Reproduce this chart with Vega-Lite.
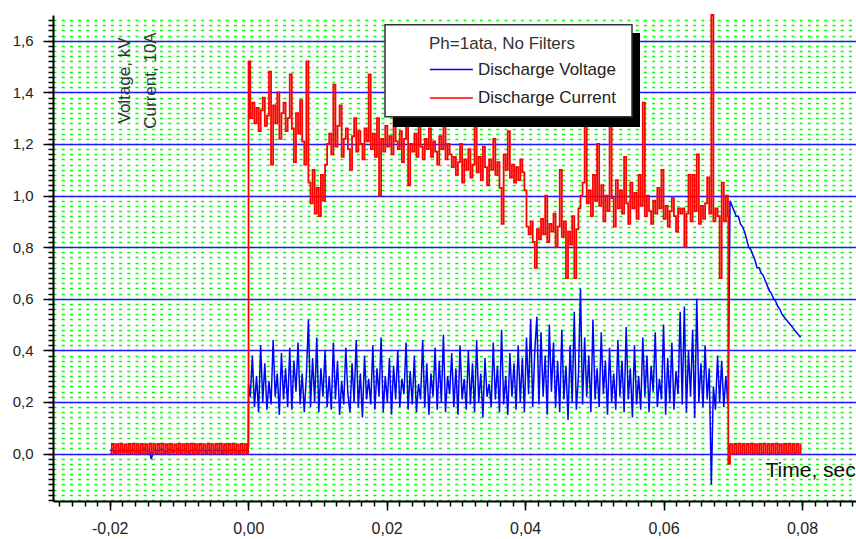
{
"$schema": "https://vega.github.io/schema/vega-lite/v6.json",
"width": 803, "height": 486,
"autosize": {"type": "none"},
"padding": {"left": 53, "top": 15, "right": 0, "bottom": 38},
"background": "white",
"config": {"view": {"stroke": null}, "font": "Liberation Sans", "legend": {"labelLimit": 400, "titleLimit": 400}},
"data": {"values": [
{"t":-0.0200,"V":0.010,"I":0.000},{"t":-0.0197,"V":0.015,"I":0.037},{"t":-0.0194,"V":0.008,"I":0.002},{"t":-0.0191,"V":0.012,"I":0.036},{"t":-0.0188,"V":0.006,"I":0.000},{"t":-0.0185,"V":0.014,"I":0.038},{"t":-0.0182,"V":0.010,"I":0.003},{"t":-0.0179,"V":0.018,"I":0.035},{"t":-0.0176,"V":0.007,"I":0.000},{"t":-0.0173,"V":0.012,"I":0.037},
{"t":-0.0170,"V":0.009,"I":0.001},{"t":-0.0167,"V":0.016,"I":0.038},{"t":-0.0164,"V":0.011,"I":0.000},{"t":-0.0161,"V":0.008,"I":0.036},{"t":-0.0158,"V":0.013,"I":0.002},{"t":-0.0155,"V":0.010,"I":0.037},{"t":-0.0152,"V":0.017,"I":0.000},{"t":-0.0149,"V":0.012,"I":0.035},{"t":-0.0146,"V":0.006,"I":0.001},{"t":-0.0143,"V":0.014,"I":0.038},
{"t":-0.0140,"V":-0.022,"I":0.000},{"t":-0.0137,"V":0.011,"I":0.036},{"t":-0.0134,"V":0.015,"I":0.002},{"t":-0.0131,"V":0.009,"I":0.037},{"t":-0.0128,"V":0.013,"I":0.000},{"t":-0.0125,"V":0.018,"I":0.038},{"t":-0.0122,"V":0.010,"I":0.001},{"t":-0.0119,"V":0.007,"I":0.036},{"t":-0.0116,"V":0.012,"I":0.000},{"t":-0.0113,"V":0.016,"I":0.037},
{"t":-0.0110,"V":0.009,"I":0.003},{"t":-0.0107,"V":0.013,"I":0.035},{"t":-0.0104,"V":0.011,"I":0.000},{"t":-0.0101,"V":0.019,"I":0.038},{"t":-0.0098,"V":0.008,"I":0.001},{"t":-0.0095,"V":0.012,"I":0.036},{"t":-0.0092,"V":0.015,"I":0.000},{"t":-0.0089,"V":0.010,"I":0.037},{"t":-0.0086,"V":0.006,"I":0.002},{"t":-0.0083,"V":0.014,"I":0.038},
{"t":-0.0080,"V":0.011,"I":0.000},{"t":-0.0077,"V":0.017,"I":0.036},{"t":-0.0074,"V":0.009,"I":0.001},{"t":-0.0071,"V":0.013,"I":0.037},{"t":-0.0068,"V":0.010,"I":0.000},{"t":-0.0065,"V":0.016,"I":0.035},{"t":-0.0062,"V":0.008,"I":0.002},{"t":-0.0059,"V":0.012,"I":0.038},{"t":-0.0056,"V":0.014,"I":0.000},{"t":-0.0053,"V":0.009,"I":0.036},
{"t":-0.0050,"V":0.011,"I":0.001},{"t":-0.0047,"V":0.018,"I":0.037},{"t":-0.0044,"V":0.010,"I":0.000},{"t":-0.0041,"V":0.013,"I":0.038},{"t":-0.0038,"V":0.007,"I":0.002},{"t":-0.0035,"V":0.015,"I":0.036},{"t":-0.0032,"V":0.011,"I":0.000},{"t":-0.0029,"V":0.009,"I":0.037},{"t":-0.0026,"V":0.014,"I":0.001},{"t":-0.0023,"V":0.012,"I":0.038},
{"t":-0.0020,"V":0.016,"I":0.000},{"t":-0.0017,"V":0.010,"I":0.035},{"t":-0.0014,"V":0.008,"I":0.002},{"t":-0.0011,"V":0.013,"I":0.037},{"t":-0.0008,"V":0.011,"I":0.000},{"t":-0.0005,"V":0.015,"I":0.036},{"t":-0.0002,"V":0.010,"I":0.001},{"t":0.0000,"V":0.012,"I":0.030},{"t":0.00005,"V":0.27,"I":1.52},
{"t":0.0003,"V":0.22,"I":1.30},{"t":0.0006,"V":0.38,"I":1.36},{"t":0.0009,"V":0.18,"I":1.28},{"t":0.0012,"V":0.30,"I":1.34},{"t":0.0015,"V":0.16,"I":1.25},{"t":0.0018,"V":0.42,"I":1.33},{"t":0.0021,"V":0.20,"I":1.38},{"t":0.0024,"V":0.35,"I":1.27},{"t":0.0027,"V":0.17,"I":1.31},{"t":0.0030,"V":0.28,"I":1.48},
{"t":0.0033,"V":0.19,"I":1.12},{"t":0.0036,"V":0.44,"I":1.35},{"t":0.0039,"V":0.22,"I":1.28},{"t":0.0042,"V":0.31,"I":1.40},{"t":0.0045,"V":0.15,"I":1.22},{"t":0.0048,"V":0.39,"I":1.32},{"t":0.0051,"V":0.21,"I":1.36},{"t":0.0054,"V":0.33,"I":1.25},{"t":0.0057,"V":0.18,"I":1.30},{"t":0.0060,"V":0.41,"I":1.47},
{"t":0.0063,"V":0.17,"I":1.26},{"t":0.0066,"V":0.36,"I":1.13},{"t":0.0069,"V":0.24,"I":1.32},{"t":0.0072,"V":0.43,"I":1.24},{"t":0.0075,"V":0.19,"I":1.37},{"t":0.0078,"V":0.31,"I":1.21},{"t":0.0081,"V":0.16,"I":1.12},{"t":0.0084,"V":0.30,"I":1.52},
{"t":0.0087,"V":0.52,"I":1.05},{"t":0.0090,"V":0.18,"I":0.97},{"t":0.0093,"V":0.37,"I":1.10},{"t":0.0096,"V":0.20,"I":0.93},{"t":0.0099,"V":0.45,"I":1.03},{"t":0.0102,"V":0.16,"I":0.92},{"t":0.0105,"V":0.33,"I":1.08},{"t":0.0108,"V":0.22,"I":0.98},{"t":0.0111,"V":0.40,"I":1.12},{"t":0.0114,"V":0.18,"I":1.20},
{"t":0.0117,"V":0.30,"I":1.24},{"t":0.0120,"V":0.17,"I":1.16},{"t":0.0123,"V":0.43,"I":1.43},{"t":0.0126,"V":0.21,"I":1.19},{"t":0.0129,"V":0.36,"I":1.27},{"t":0.0132,"V":0.15,"I":1.35},{"t":0.0135,"V":0.28,"I":1.15},{"t":0.0138,"V":0.19,"I":1.22},{"t":0.0141,"V":0.41,"I":1.26},{"t":0.0144,"V":0.23,"I":1.18},
{"t":0.0147,"V":0.16,"I":1.10},{"t":0.0150,"V":0.35,"I":1.23},{"t":0.0153,"V":0.20,"I":1.30},{"t":0.0156,"V":0.44,"I":1.17},{"t":0.0159,"V":0.18,"I":1.25},{"t":0.0162,"V":0.31,"I":1.20},{"t":0.0165,"V":0.14,"I":1.14},{"t":0.0168,"V":0.38,"I":1.26},{"t":0.0171,"V":0.21,"I":1.21},{"t":0.0174,"V":0.29,"I":1.47},
{"t":0.0177,"V":0.19,"I":1.18},{"t":0.0180,"V":0.42,"I":1.24},{"t":0.0183,"V":0.17,"I":1.15},{"t":0.0186,"V":0.33,"I":1.30},{"t":0.0189,"V":0.22,"I":1.00},{"t":0.0192,"V":0.45,"I":1.22},{"t":0.0195,"V":0.16,"I":1.17},{"t":0.0198,"V":0.30,"I":1.27},{"t":0.0201,"V":0.20,"I":1.19},{"t":0.0204,"V":0.37,"I":1.23},
{"t":0.0207,"V":0.15,"I":1.16},{"t":0.0210,"V":0.34,"I":1.33},{"t":0.0213,"V":0.21,"I":1.21},{"t":0.0216,"V":0.40,"I":1.18},{"t":0.0219,"V":0.18,"I":1.25},{"t":0.0222,"V":0.29,"I":1.13},{"t":0.0225,"V":0.23,"I":1.22},{"t":0.0228,"V":0.43,"I":1.28},{"t":0.0231,"V":0.17,"I":1.04},{"t":0.0234,"V":0.32,"I":1.20},
{"t":0.0237,"V":0.19,"I":1.17},{"t":0.0240,"V":0.38,"I":1.24},{"t":0.0243,"V":0.16,"I":1.15},{"t":0.0246,"V":0.27,"I":1.35},{"t":0.0249,"V":0.21,"I":1.19},{"t":0.0252,"V":0.44,"I":1.14},{"t":0.0255,"V":0.18,"I":1.22},{"t":0.0258,"V":0.35,"I":1.18},{"t":0.0261,"V":0.15,"I":1.26},{"t":0.0264,"V":0.31,"I":1.15},
{"t":0.0267,"V":0.22,"I":1.21},{"t":0.0270,"V":0.41,"I":1.17},{"t":0.0273,"V":0.17,"I":1.12},{"t":0.0276,"V":0.36,"I":1.23},{"t":0.0279,"V":0.20,"I":1.18},{"t":0.0282,"V":0.46,"I":1.28},{"t":0.0285,"V":0.16,"I":1.14},{"t":0.0288,"V":0.30,"I":1.20},{"t":0.0291,"V":0.23,"I":1.16},{"t":0.0294,"V":0.39,"I":1.11},
{"t":0.0297,"V":0.18,"I":1.15},{"t":0.0300,"V":0.33,"I":1.08},{"t":0.0303,"V":0.15,"I":1.13},{"t":0.0306,"V":0.42,"I":1.20},{"t":0.0309,"V":0.21,"I":1.05},{"t":0.0312,"V":0.29,"I":1.14},{"t":0.0315,"V":0.17,"I":1.10},{"t":0.0318,"V":0.40,"I":1.18},{"t":0.0321,"V":0.19,"I":1.07},{"t":0.0324,"V":0.35,"I":1.12},
{"t":0.0327,"V":0.16,"I":1.38},{"t":0.0330,"V":0.44,"I":1.09},{"t":0.0333,"V":0.20,"I":1.15},{"t":0.0336,"V":0.31,"I":1.06},{"t":0.0339,"V":0.14,"I":1.19},{"t":0.0342,"V":0.37,"I":1.11},{"t":0.0345,"V":0.22,"I":1.04},{"t":0.0348,"V":0.27,"I":1.14},{"t":0.0351,"V":0.18,"I":1.10},{"t":0.0354,"V":0.43,"I":1.22},
{"t":0.0357,"V":0.21,"I":1.08},{"t":0.0360,"V":0.34,"I":1.13},{"t":0.0363,"V":0.16,"I":1.03},{"t":0.0366,"V":0.48,"I":0.89},{"t":0.0369,"V":0.19,"I":1.16},{"t":0.0372,"V":0.30,"I":1.10},{"t":0.0375,"V":0.15,"I":1.25},{"t":0.0378,"V":0.39,"I":1.07},{"t":0.0381,"V":0.22,"I":1.12},{"t":0.0384,"V":0.35,"I":1.05},
{"t":0.0387,"V":0.17,"I":1.11},{"t":0.0390,"V":0.42,"I":1.06},{"t":0.0393,"V":0.20,"I":1.14},{"t":0.0396,"V":0.37,"I":1.09},{"t":0.0399,"V":0.16,"I":1.02},{"t":0.0402,"V":0.45,"I":0.88},{"t":0.0405,"V":0.23,"I":0.85},{"t":0.0408,"V":0.52,"I":0.90},{"t":0.0411,"V":0.18,"I":0.82},{"t":0.0414,"V":0.40,"I":0.72},
{"t":0.0417,"V":0.53,"I":0.87},{"t":0.0420,"V":0.19,"I":0.83},{"t":0.0423,"V":0.47,"I":0.91},{"t":0.0426,"V":0.22,"I":0.85},{"t":0.0429,"V":0.38,"I":1.00},{"t":0.0432,"V":0.15,"I":0.82},{"t":0.0435,"V":0.50,"I":0.89},{"t":0.0438,"V":0.24,"I":0.86},{"t":0.0441,"V":0.43,"I":0.93},{"t":0.0444,"V":0.18,"I":0.80},
{"t":0.0447,"V":0.36,"I":0.88},{"t":0.0450,"V":0.16,"I":1.10},{"t":0.0453,"V":0.48,"I":0.84},{"t":0.0456,"V":0.21,"I":0.90},{"t":0.0459,"V":0.34,"I":0.68},{"t":0.0462,"V":0.13,"I":0.86},{"t":0.0465,"V":0.42,"I":0.81},{"t":0.0468,"V":0.20,"I":0.92},{"t":0.0471,"V":0.55,"I":0.68},{"t":0.0474,"V":0.17,"I":0.87},
{"t":0.0477,"V":0.30,"I":0.95},{"t":0.0480,"V":0.64,"I":1.00},{"t":0.0483,"V":0.19,"I":1.05},{"t":0.0486,"V":0.45,"I":1.45},{"t":0.0489,"V":0.22,"I":0.97},{"t":0.0492,"V":0.38,"I":1.02},{"t":0.0495,"V":0.16,"I":0.92},{"t":0.0498,"V":0.52,"I":1.08},{"t":0.0501,"V":0.21,"I":0.98},{"t":0.0504,"V":0.33,"I":1.20},
{"t":0.0507,"V":0.18,"I":0.96},{"t":0.0510,"V":0.47,"I":1.04},{"t":0.0513,"V":0.23,"I":0.90},{"t":0.0516,"V":0.36,"I":1.00},{"t":0.0519,"V":0.15,"I":0.94},{"t":0.0522,"V":0.41,"I":1.27},{"t":0.0525,"V":0.20,"I":0.99},{"t":0.0528,"V":0.31,"I":0.88},{"t":0.0531,"V":0.17,"I":1.06},{"t":0.0534,"V":0.44,"I":0.95},
{"t":0.0537,"V":0.22,"I":1.02},{"t":0.0540,"V":0.36,"I":0.93},{"t":0.0543,"V":0.16,"I":1.15},{"t":0.0546,"V":0.49,"I":0.97},{"t":0.0549,"V":0.21,"I":0.89},{"t":0.0552,"V":0.33,"I":1.05},{"t":0.0555,"V":0.14,"I":0.95},{"t":0.0558,"V":0.42,"I":1.01},{"t":0.0561,"V":0.19,"I":0.91},{"t":0.0564,"V":0.30,"I":1.08},
{"t":0.0567,"V":0.17,"I":0.96},{"t":0.0570,"V":0.45,"I":1.36},{"t":0.0573,"V":0.22,"I":0.92},{"t":0.0576,"V":0.38,"I":1.00},{"t":0.0579,"V":0.16,"I":0.94},{"t":0.0582,"V":0.34,"I":0.89},{"t":0.0585,"V":0.24,"I":0.98},{"t":0.0588,"V":0.47,"I":0.93},{"t":0.0591,"V":0.18,"I":1.03},{"t":0.0594,"V":0.29,"I":0.95},
{"t":0.0597,"V":0.21,"I":1.10},{"t":0.0600,"V":0.50,"I":0.91},{"t":0.0603,"V":0.15,"I":0.96},{"t":0.0606,"V":0.37,"I":0.88},{"t":0.0609,"V":0.20,"I":0.94},{"t":0.0612,"V":0.43,"I":0.99},{"t":0.0615,"V":0.17,"I":0.92},{"t":0.0618,"V":0.32,"I":0.86},{"t":0.0621,"V":0.23,"I":0.95},{"t":0.0624,"V":0.55,"I":0.93},
{"t":0.0627,"V":0.19,"I":0.95},{"t":0.0630,"V":0.57,"I":0.80},{"t":0.0633,"V":0.16,"I":0.93},{"t":0.0636,"V":0.40,"I":1.08},{"t":0.0639,"V":0.22,"I":0.90},{"t":0.0642,"V":0.48,"I":1.08},{"t":0.0645,"V":0.14,"I":0.94},{"t":0.0648,"V":0.60,"I":1.16},{"t":0.0651,"V":0.20,"I":0.89},{"t":0.0654,"V":0.35,"I":0.96},
{"t":0.0657,"V":0.18,"I":0.91},{"t":0.0660,"V":0.42,"I":0.97},{"t":0.0663,"V":0.21,"I":1.07},{"t":0.0666,"V":0.33,"I":0.93},{"t":0.0669,"V":-0.12,"I":1.70},{"t":0.0672,"V":0.26,"I":0.90},{"t":0.0675,"V":0.17,"I":0.95},{"t":0.0678,"V":0.38,"I":0.92},
{"t":0.0681,"V":0.20,"I":0.68},{"t":0.0684,"V":0.36,"I":1.05},{"t":0.0687,"V":0.18,"I":0.90},{"t":0.0690,"V":0.30,"I":1.00},{"t":0.0693,"V":0.19,"I":0.92},
{"t":0.06935,"V":0.20,"I":-0.04},{"t":0.0696,"V":0.98,"I":0.036},{"t":0.0699,"V":0.96,"I":0.000},{"t":0.0702,"V":0.94,"I":0.037},{"t":0.0705,"V":0.92,"I":0.001},{"t":0.0708,"V":0.92,"I":0.038},{"t":0.0711,"V":0.89,"I":0.000},{"t":0.0714,"V":0.88,"I":0.036},{"t":0.0717,"V":0.86,"I":0.002},{"t":0.0720,"V":0.83,"I":0.037},
{"t":0.0723,"V":0.80,"I":0.000},{"t":0.0726,"V":0.79,"I":0.038},{"t":0.0729,"V":0.77,"I":0.001},{"t":0.0732,"V":0.75,"I":0.036},{"t":0.0735,"V":0.72,"I":0.000},{"t":0.0738,"V":0.72,"I":0.037},{"t":0.0741,"V":0.70,"I":0.002},{"t":0.0744,"V":0.69,"I":0.038},{"t":0.0747,"V":0.67,"I":0.000},{"t":0.0750,"V":0.65,"I":0.036},
{"t":0.0753,"V":0.63,"I":0.001},{"t":0.0756,"V":0.62,"I":0.037},{"t":0.0759,"V":0.60,"I":0.000},{"t":0.0762,"V":0.59,"I":0.038},{"t":0.0765,"V":0.57,"I":0.002},{"t":0.0768,"V":0.56,"I":0.036},{"t":0.0771,"V":0.54,"I":0.000},{"t":0.0774,"V":0.53,"I":0.037},{"t":0.0777,"V":0.52,"I":0.001},{"t":0.0780,"V":0.51,"I":0.038},
{"t":0.0783,"V":0.50,"I":0.000},{"t":0.0786,"V":0.49,"I":0.036},{"t":0.0789,"V":0.48,"I":0.002},{"t":0.0792,"V":0.47,"I":0.037},{"t":0.0795,"V":0.46,"I":0.000},{"t":0.0798,"V":0.45,"I":0.036}
]},
"layer": [
{"mark": {"type": "line", "opacity": 0},
 "encoding": {
  "x": {"field": "t", "type": "quantitative", "scale": {"domain": [-0.0282, 0.0878], "nice": false, "zero": false},
   "axis": {"orient": "bottom", "values": [-0.027273,-0.025455,-0.023636,-0.021818,-0.02,-0.018182,-0.016364,-0.014545,-0.012727,-0.010909,-0.009091,-0.007273,-0.005455,-0.003636,-0.001818,0,0.001818,0.003636,0.005455,0.007273,0.009091,0.010909,0.012727,0.014545,0.016364,0.018182,0.02,0.021818,0.023636,0.025455,0.027273,0.029091,0.030909,0.032727,0.034545,0.036364,0.038182,0.04,0.041818,0.043636,0.045455,0.047273,0.049091,0.050909,0.052727,0.054545,0.056364,0.058182,0.06,0.061818,0.063636,0.065455,0.067273,0.069091,0.070909,0.072727,0.074545,0.076364,0.078182,0.08,0.081818,0.083636,0.085455,0.087273],
    "labels": false, "title": null, "grid": false, "domain": false, "tickSize": 5, "tickWidth": 1.5, "tickColor": "#000000"}},
  "y": {"field": "V", "type": "quantitative", "scale": {"domain": [-0.184, 1.7], "nice": false, "zero": false},
   "axis": {"orient": "left", "values": [-0.18,-0.16,-0.14,-0.12,-0.1,-0.08,-0.06,-0.04,-0.02,0,0.02,0.04,0.06,0.08,0.1,0.12,0.14,0.16,0.18,0.2,0.22,0.24,0.26,0.28,0.3,0.32,0.34,0.36,0.38,0.4,0.42,0.44,0.46,0.48,0.5,0.52,0.54,0.56,0.58,0.6,0.62,0.64,0.66,0.68,0.7,0.72,0.74,0.76,0.78,0.8,0.82,0.84,0.86,0.88,0.9,0.92,0.94,0.96,0.98,1,1.02,1.04,1.06,1.08,1.1,1.12,1.14,1.16,1.18,1.2,1.22,1.24,1.26,1.28,1.3,1.32,1.34,1.36,1.38,1.4,1.42,1.44,1.46,1.48,1.5,1.52,1.54,1.56,1.58,1.6,1.62,1.64,1.66,1.68],
    "labels": false, "title": null, "grid": true, "gridColor": "#00ff00", "gridDash": [3, 5.2], "gridWidth": 1.5, "domain": false, "tickSize": 5, "tickWidth": 1.5, "tickColor": "#000000"}}
 }},
{"mark": {"type": "line", "opacity": 0},
 "encoding": {
  "x": {"field": "t", "type": "quantitative", "scale": {"domain": [-0.0282, 0.0878], "nice": false, "zero": false},
   "axis": {"orient": "bottom", "values": [-0.02, 0, 0.02, 0.04, 0.06, 0.08], "grid": false, "domain": true, "domainColor": "#000000", "domainWidth": 2, "tickSize": 9, "tickWidth": 1.5, "tickColor": "#000000",
    "labelExpr": "replace(replace(format(datum.value, '.2f'), '.', ','), '\u2212', '-')", "labelFontSize": 16, "labelColor": "#222222", "labelPadding": 10, "labelFont": "Liberation Sans",
    "title": "Time, sec", "titleX": 712, "titleY": -25, "titleAlign": "left", "titleBaseline": "alphabetic", "titleFontSize": 21, "titleFontWeight": "normal", "titleColor": "#111111", "titleFont": "Liberation Sans"}},
  "y": {"field": "V", "type": "quantitative", "scale": {"domain": [-0.184, 1.7], "nice": false, "zero": false},
   "axis": {"orient": "left", "values": [0, 0.2, 0.4, 0.6, 0.8, 1, 1.2, 1.4, 1.6], "grid": true, "gridColor": "#1a1aff", "gridWidth": 1.5, "domain": true, "domainColor": "#000000", "domainWidth": 2, "tickSize": 10, "tickWidth": 1.5, "tickColor": "#000000",
    "labelExpr": "replace(format(datum.value, '.1f'), '.', ',')", "labelFontSize": 15, "labelColor": "#222222", "labelPadding": 10, "labelFont": "Liberation Sans",
    "title": ["Voltage, kV", "Current, 10A"], "titleX": 71, "titleY": 65, "titleAngle": -90, "titleAlign": "center", "titleBaseline": "middle", "titleLineHeight": 26, "titleFontSize": 17, "titleFontWeight": "normal", "titleColor": "#333333", "titleFont": "Liberation Sans"}}
 }},
{"mark": {"type": "line", "strokeWidth": 1.5},
 "encoding": {
  "x": {"field": "t", "type": "quantitative", "axis": null},
  "y": {"field": "V", "type": "quantitative", "axis": null},
  "color": {"datum": "Discharge Voltage", "type": "nominal",
   "scale": {"domain": ["Discharge Voltage", "Discharge Current"], "range": ["#0000ff", "#ff0000"]},
   "legend": {"orient": "none", "legendX": 376, "legendY": 21, "padding": 0,
    "title": "Ph=1ata, No Filters", "titleFontSize": 17, "titleFontWeight": "normal", "titleColor": "#333333", "titleFont": "Liberation Sans", "titlePadding": 7,
    "labelFontSize": 17, "labelColor": "#222222", "labelFont": "Liberation Sans", "labelBaseline": "middle",
    "symbolType": "M-1,0H4", "symbolSize": 296, "symbolStrokeWidth": 1.5, "labelOffset": 30, "rowPadding": 10.5}}
 }},
{"mark": {"type": "line", "strokeWidth": 1.8, "interpolate": "step-after"},
 "encoding": {
  "x": {"field": "t", "type": "quantitative", "axis": null},
  "y": {"field": "I", "type": "quantitative", "axis": null},
  "color": {"datum": "Discharge Current", "type": "nominal"}
 }},
{"data": {"values": [{}]},
 "mark": {"type": "rect", "color": "#000000"},
 "encoding": {
  "x": {"datum": 0.02091, "type": "quantitative", "axis": null}, "x2": {"datum": 0.0566},
  "y": {"datum": 1.6302, "type": "quantitative", "axis": null}, "y2": {"datum": 1.2659}
 }},
{"data": {"values": [{}]},
 "mark": {"type": "rect", "fill": "#ffffff", "stroke": "#333333", "strokeWidth": 1.5},
 "encoding": {
  "x": {"datum": 0.01976, "type": "quantitative", "axis": null}, "x2": {"datum": 0.05544},
  "y": {"datum": 1.6624, "type": "quantitative", "axis": null}, "y2": {"datum": 1.3058}
 }}
],
"resolve": {"axis": {"x": "independent", "y": "independent"}}
}
